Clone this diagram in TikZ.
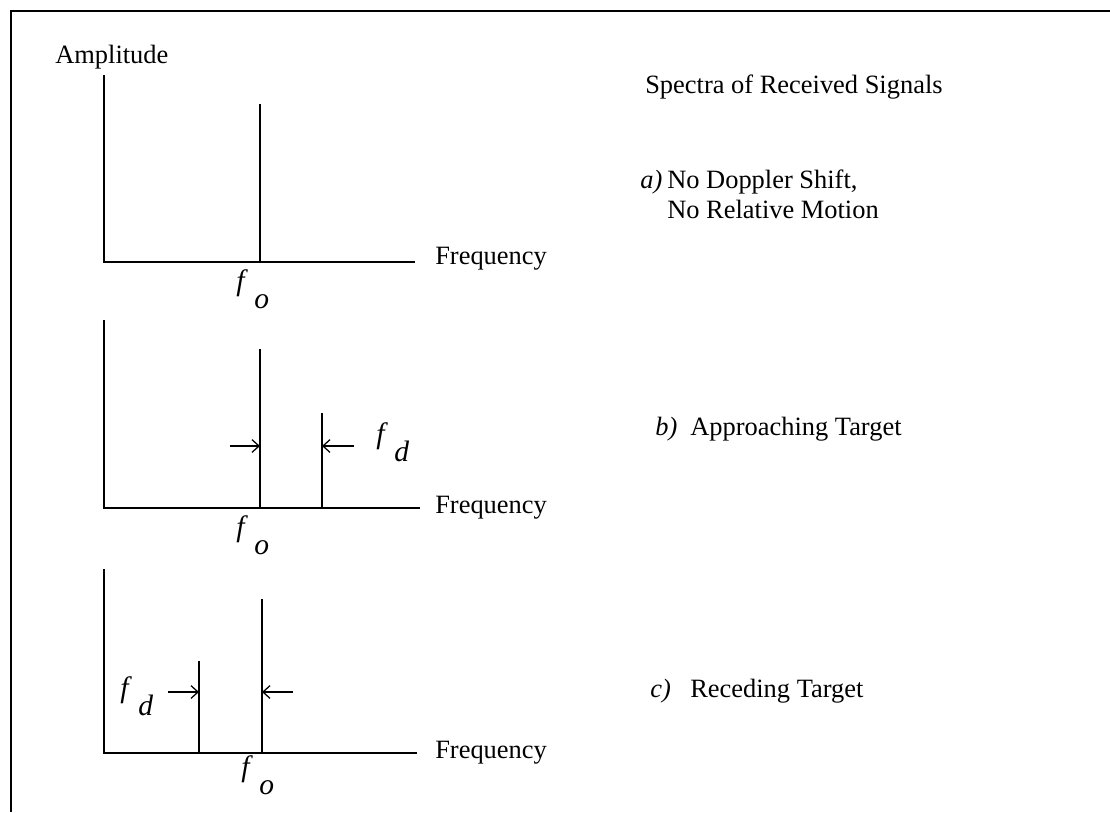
\documentclass[tikz,border=0pt]{standalone}
\usepackage{fontspec}
\setmainfont{Liberation Serif}
\usetikzlibrary{arrows.meta}
\newcommand{\fsub}[1]{{\fontsize{21}{24}\selectfont\textit{f}\hspace{0.22em}\raisebox{-0.62em}{\textit{#1}}}}

\begin{document}
\begin{tikzpicture}[x=0.025cm,y=-0.025cm,
  font=\fontsize{18.8}{22}\selectfont,
  axis/.style={line width=1.4pt},
  spike/.style={line width=2pt},
  gap/.style={line width=0.9pt,-{Straight Barb[length=5pt,width=9pt]}},
  txt/.style={anchor=base west,inner sep=0pt}]
\useasboundingbox (0,0) rectangle (1110,812);

\draw[line width=1.3pt] (11,812) -- (11,11) -- (1110,11);

\node[txt] (amp) at (55,63) {Amplitude};
\node[txt] (title) at (645,93) {Spectra of Received Signals};

% a) no relative motion
\draw[axis] (104,75) -- (104,262) -- (415,262);
\draw[spike] (260,104) -- (260,262);
\node[txt] (freqa) at (435,264) {Frequency};
\node[txt] (foa) at (236,290) {\fsub{o}};
\node[txt] (laba) at (640,188) {\textit{a)}};
\node[txt] (texta) at (667,188) {No Doppler Shift,};
\node[txt] (textaa) at (667,218) {No Relative Motion};

% b) approaching
\draw[axis] (104,320) -- (104,508) -- (420,508);
\draw[spike] (260,349) -- (260,508);
\draw[spike] (322,413) -- (322,508);
\draw[gap] (230,446) -- (260,446);
\draw[gap] (354,446) -- (322,446);
\node[txt] (fdb) at (376,443) {\fsub{d}};
\node[txt] (freqb) at (435,513) {Frequency};
\node[txt] (fob) at (236,536) {\fsub{o}};
\node[txt] (labb) at (655,435) {\textit{b)}};
\node[txt] (textb) at (690,435) {Approaching Target};

% c) receding
\draw[axis] (104,569) -- (104,753) -- (417,753);
\draw[spike] (262,599) -- (262,753);
\draw[spike] (199,661) -- (199,753);
\draw[gap] (168,692) -- (199,692);
\draw[gap] (293,692) -- (262,692);
\node[txt] (fdc) at (120,697) {\fsub{d}};
\node[txt] (freqc) at (435,758) {Frequency};
\node[txt] (foc) at (241,776) {\fsub{o}};
\node[txt] (labc) at (650,697) {\textit{c)}};
\node[txt] (textc) at (690,697) {Receding Target};
\end{tikzpicture}
\end{document}
